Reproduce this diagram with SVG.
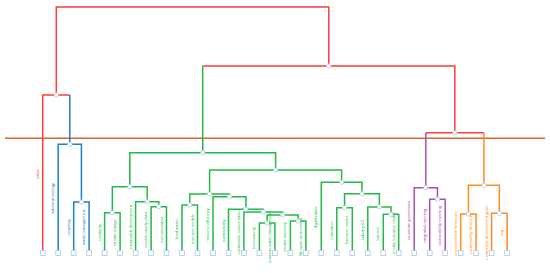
<svg xmlns="http://www.w3.org/2000/svg" width="550" height="273" viewBox="0 0 550 273">
<style>
.lk{fill:none;stroke-width:1.5}
.r{stroke:#ff3b3b}.b{stroke:#1f80c6}.g{stroke:#22b847}.p{stroke:#a552b3}.o{stroke:#ff8c1f}
.nd{fill:#fff;stroke:#a9c9e6;stroke-width:0.8}
.t{font-family:"Liberation Sans",Arial,sans-serif;font-size:4px;text-anchor:middle}
.tr{fill:#ff3b3b}.tb{fill:#1f80c6}.tg{fill:#22b847}.tp{fill:#a552b3}.to{fill:#ff8c1f}
</style>
<rect width="550" height="273" fill="#fff"/>
<line x1="5" y1="138.3" x2="545" y2="138.3" stroke="#dc6330" stroke-width="1.5"/>
<g id="connectors">
<path class="lk r" d="M56.3 95V7H328.8V66"/>
<path class="lk r" d="M42.7 250.5V95H69.8"/>
<path class="lk b" d="M69.8 144.3V95"/>
<path class="lk b" d="M58.2 250.5V144.3H81.4V202"/>
<path class="lk b" d="M73.7 250.5V202H89.1V250.5"/>
<path class="lk r" d="M202.7 66H454.85V132.7"/>
<path class="lk g" d="M202.7 66V152.7"/>
<path class="lk g" d="M104.6 250.5V212.7H120.1V250.5"/>
<path class="lk g" d="M151.1 250.5V206.7H166.5V250.5"/>
<path class="lk g" d="M135.6 250.5V201.7H158.8V206.7"/>
<path class="lk g" d="M112.35 212.7V186.7H147.2V201.7"/>
<path class="lk g" d="M129.8 186.7V152.7H275.6V170"/>
<path class="lk g" d="M182 250.5V205H197.5V250.5"/>
<path class="lk g" d="M259.4 250.5V223H274.9V250.5"/>
<path class="lk g" d="M290.4 250.5V221H305.9V250.5"/>
<path class="lk g" d="M267.15 223V215H298.15V221"/>
<path class="lk g" d="M243.9 250.5V212H282.65V215"/>
<path class="lk g" d="M228.5 250.5V209.3H263.3V212"/>
<path class="lk g" d="M213 250.5V196.7H245.9V209.3"/>
<path class="lk g" d="M189.75 205V194H229.45V196.7"/>
<path class="lk g" d="M336.8 250.5V207.7H352.3V250.5"/>
<path class="lk g" d="M383.3 250.5V214.3H398.7V250.5"/>
<path class="lk g" d="M367.8 250.5V207H391V214.3"/>
<path class="lk g" d="M344.55 207.7V193.8H379.4V207"/>
<path class="lk g" d="M321.3 250.5V182.3H361.97V193.8"/>
<path class="lk g" d="M209.6 194V170H341.6V182.3"/>
<path class="lk r" d="M425.8 132.7H483.9"/>
<path class="lk p" d="M425.8 132.7V187.7"/>
<path class="lk o" d="M483.9 132.7V185.3"/>
<path class="lk p" d="M414.2 250.5V187.7H437.45V199.3"/>
<path class="lk p" d="M429.7 250.5V199.3H445.2V250.5"/>
<path class="lk o" d="M460.7 250.5V214H476.1V250.5"/>
<path class="lk o" d="M491.6 250.5V213.3H507.1V250.5"/>
<path class="lk o" d="M468.4 214V185.3H499.35V213.3"/>
</g>
<g id="n-r1"><circle class="nd" cx="56.3" cy="95" r="2.2"/></g>
<g id="n-b1"><circle class="nd" cx="69.8" cy="144.3" r="2.2"/></g>
<g id="n-b2"><circle class="nd" cx="81.4" cy="202" r="2.2"/></g>
<g id="n-r2"><circle class="nd" cx="328.8" cy="66" r="2.2"/></g>
<g id="n-gt"><circle class="nd" cx="202.7" cy="152.7" r="2.2"/></g>
<g id="n-gl"><circle class="nd" cx="129.8" cy="186.7" r="2.2"/></g>
<g id="n-g45"><circle class="nd" cx="112.35" cy="212.7" r="2.2"/></g>
<g id="n-g678"><circle class="nd" cx="147.2" cy="201.7" r="2.2"/></g>
<g id="n-g78"><circle class="nd" cx="158.8" cy="206.7" r="2.2"/></g>
<g id="n-gr"><circle class="nd" cx="275.6" cy="170" r="2.2"/></g>
<g id="n-gv"><circle class="nd" cx="209.6" cy="194" r="2.2"/></g>
<g id="n-g910"><circle class="nd" cx="189.75" cy="205" r="2.2"/></g>
<g id="n-gw"><circle class="nd" cx="229.45" cy="196.7" r="2.2"/></g>
<g id="n-gx"><circle class="nd" cx="245.9" cy="209.3" r="2.2"/></g>
<g id="n-gy"><circle class="nd" cx="263.3" cy="212" r="2.2"/></g>
<g id="n-gz"><circle class="nd" cx="282.65" cy="215" r="2.2"/></g>
<g id="n-g1415"><circle class="nd" cx="267.15" cy="223" r="2.2"/></g>
<g id="n-g1617"><circle class="nd" cx="298.15" cy="221" r="2.2"/></g>
<g id="n-g1823"><circle class="nd" cx="341.6" cy="182.3" r="2.2"/></g>
<g id="n-g1923"><circle class="nd" cx="361.97" cy="193.8" r="2.2"/></g>
<g id="n-g1920"><circle class="nd" cx="344.55" cy="207.7" r="2.2"/></g>
<g id="n-g2123"><circle class="nd" cx="379.4" cy="207" r="2.2"/></g>
<g id="n-g2223"><circle class="nd" cx="391" cy="214.3" r="2.2"/></g>
<g id="n-po"><circle class="nd" cx="454.85" cy="132.7" r="2.2"/></g>
<g id="n-p"><circle class="nd" cx="425.8" cy="187.7" r="2.2"/></g>
<g id="n-p2526"><circle class="nd" cx="437.45" cy="199.3" r="2.2"/></g>
<g id="n-o"><circle class="nd" cx="483.9" cy="185.3" r="2.2"/></g>
<g id="n-o2728"><circle class="nd" cx="468.4" cy="214" r="2.2"/></g>
<g id="n-o2930"><circle class="nd" cx="499.35" cy="213.3" r="2.2"/></g>
<g id="leaf-0"><rect class="nd" x="40.3" y="250.6" width="4.8" height="4.8"/><text class="t tr" transform="translate(38.7 174) rotate(-90)">value</text></g>
<g id="leaf-1"><rect class="nd" x="55.8" y="250.6" width="4.8" height="4.8"/><text class="t tb" transform="translate(54.2 198.6) rotate(-90)">industrial ecology</text></g>
<g id="leaf-2"><rect class="nd" x="71.3" y="250.6" width="4.8" height="4.8"/><text class="t tb" transform="translate(69.7 227.5) rotate(-90)">recycling</text></g>
<g id="leaf-3"><rect class="nd" x="86.7" y="250.6" width="4.8" height="4.8"/><text class="t tb" transform="translate(85.1 227.5) rotate(-90)">waste management</text></g>
<g id="leaf-4"><rect class="nd" x="102.2" y="250.6" width="4.8" height="4.8"/><text class="t tg" transform="translate(100.6 232.8) rotate(-90)">circularity</text></g>
<g id="leaf-5"><rect class="nd" x="117.7" y="250.6" width="4.8" height="4.8"/><text class="t tg" transform="translate(116.1 232.8) rotate(-90)">climate change</text></g>
<g id="leaf-6"><rect class="nd" x="133.2" y="250.6" width="4.8" height="4.8"/><text class="t tg" transform="translate(131.6 227.3) rotate(-90)">sustainable development</text></g>
<g id="leaf-7"><rect class="nd" x="148.7" y="250.6" width="4.8" height="4.8"/><text class="t tg" transform="translate(147.1 229.8) rotate(-90)">circular supply chain</text></g>
<g id="leaf-8"><rect class="nd" x="164.1" y="250.6" width="4.8" height="4.8"/><text class="t tg" transform="translate(162.5 229.8) rotate(-90)">eco-innovation</text></g>
<g id="leaf-9"><rect class="nd" x="179.6" y="250.6" width="4.8" height="4.8"/><text class="t tg" transform="translate(178 229) rotate(-90)">food waste</text></g>
<g id="leaf-10"><rect class="nd" x="195.1" y="250.6" width="4.8" height="4.8"/><text class="t tg" transform="translate(193.5 229) rotate(-90)">business models</text></g>
<g id="leaf-11"><rect class="nd" x="210.6" y="250.6" width="4.8" height="4.8"/><text class="t tg" transform="translate(209 224.8) rotate(-90)">resource efficiency</text></g>
<g id="leaf-12"><rect class="nd" x="226.1" y="250.6" width="4.8" height="4.8"/><text class="t tg" transform="translate(224.5 231) rotate(-90)">sustainability</text></g>
<g id="leaf-13"><rect class="nd" x="241.5" y="250.6" width="4.8" height="4.8"/><text class="t tg" transform="translate(239.9 232.5) rotate(-90)">sustainable consumption</text></g>
<g id="leaf-14"><rect class="nd" x="257" y="250.6" width="4.8" height="4.8"/><text class="t tg" transform="translate(255.4 238) rotate(-90)">bioeconomy</text></g>
<g id="leaf-15"><rect class="nd" x="272.5" y="250.6" width="4.8" height="4.8"/><text class="t tg" transform="translate(270.9 238) rotate(-90)">environmental management</text></g>
<g id="leaf-16"><rect class="nd" x="288" y="250.6" width="4.8" height="4.8"/><text class="t tg" transform="translate(286.4 237) rotate(-90)">circular economy</text></g>
<g id="leaf-17"><rect class="nd" x="303.5" y="250.6" width="4.8" height="4.8"/><text class="t tg" transform="translate(301.9 237) rotate(-90)">life cycle assessment</text></g>
<g id="leaf-18"><rect class="nd" x="318.9" y="250.6" width="4.8" height="4.8"/><text class="t tg" transform="translate(317.3 217.6) rotate(-90)">digitalization</text></g>
<g id="leaf-19"><rect class="nd" x="334.4" y="250.6" width="4.8" height="4.8"/><text class="t tg" transform="translate(332.8 230.3) rotate(-90)">innovation</text></g>
<g id="leaf-20"><rect class="nd" x="349.9" y="250.6" width="4.8" height="4.8"/><text class="t tg" transform="translate(348.3 230.3) rotate(-90)">business model</text></g>
<g id="leaf-21"><rect class="nd" x="365.4" y="250.6" width="4.8" height="4.8"/><text class="t tg" transform="translate(363.8 230) rotate(-90)">industry 4.0</text></g>
<g id="leaf-22"><rect class="nd" x="380.9" y="250.6" width="4.8" height="4.8"/><text class="t tg" transform="translate(379.3 233.6) rotate(-90)">barriers</text></g>
<g id="leaf-23"><rect class="nd" x="396.3" y="250.6" width="4.8" height="4.8"/><text class="t tg" transform="translate(394.7 233.6) rotate(-90)">circular business model</text></g>
<g id="leaf-24"><rect class="nd" x="411.8" y="250.6" width="4.8" height="4.8"/><text class="t tp" transform="translate(410.2 220.3) rotate(-90)">corporate governance</text></g>
<g id="leaf-25"><rect class="nd" x="427.3" y="250.6" width="4.8" height="4.8"/><text class="t tp" transform="translate(425.7 226) rotate(-90)">integrated reporting</text></g>
<g id="leaf-26"><rect class="nd" x="442.8" y="250.6" width="4.8" height="4.8"/><text class="t tp" transform="translate(441.2 226) rotate(-90)">sustainability reporting</text></g>
<g id="leaf-27"><rect class="nd" x="458.3" y="250.6" width="4.8" height="4.8"/><text class="t to" transform="translate(456.7 233.5) rotate(-90)">environmental disclosure</text></g>
<g id="leaf-28"><rect class="nd" x="473.7" y="250.6" width="4.8" height="4.8"/><text class="t to" transform="translate(472.1 233.5) rotate(-90)">sustainability disclosure</text></g>
<g id="leaf-29"><rect class="nd" x="489.2" y="250.6" width="4.8" height="4.8"/><text class="t to" transform="translate(487.6 233) rotate(-90)">sustainable development goals</text></g>
<g id="leaf-30"><rect class="nd" x="504.7" y="250.6" width="4.8" height="4.8"/><text class="t to" transform="translate(503.1 233) rotate(-90)">esg</text></g>
</svg>
